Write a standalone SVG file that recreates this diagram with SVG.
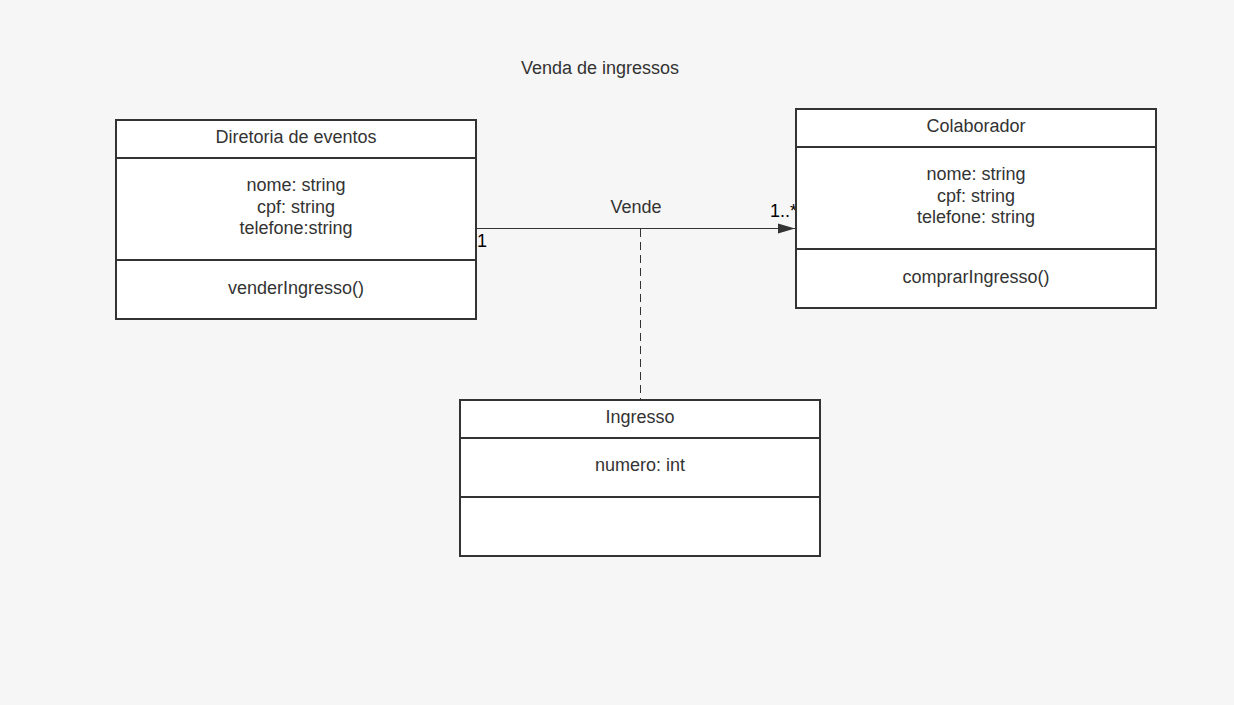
<svg xmlns="http://www.w3.org/2000/svg" width="1234" height="705" viewBox="0 0 1234 705">
<style>
.box{fill:#ffffff;stroke:#333333;stroke-width:2}
.div{stroke:#333333;stroke-width:2}
text{font-family:"Liberation Sans",Arial,sans-serif;font-size:18px;fill:#333333}
.c{text-anchor:middle}
.lbl{fill:#000000}
</style>
<defs>
<marker id="arr" markerWidth="18" markerHeight="12" refX="17" refY="6" orient="auto" markerUnits="userSpaceOnUse">
<path d="M0,1 L17,6 L0,11 Z" fill="#333333"/>
</marker>
</defs>
<rect width="1234" height="705" fill="#f6f6f6"/>
<text class="c" x="600" y="74">Venda de ingressos</text>
<g id="connectors">
<line x1="477" y1="228.5" x2="795" y2="228.5" stroke="#333333" stroke-width="1" marker-end="url(#arr)"/>
<line x1="640.5" y1="229" x2="640.5" y2="399" stroke="#333333" stroke-width="1" stroke-dasharray="8,5"/>
<text class="c" x="636" y="213">Vende</text>
<text class="lbl" x="477" y="247">1</text>
<text class="lbl" x="797" y="217" text-anchor="end">1..*</text>
</g>
<g id="diretoria">
<rect class="box" x="116" y="120" width="360" height="199"/>
<line class="div" x1="116" y1="158" x2="476" y2="158"/>
<line class="div" x1="116" y1="260" x2="476" y2="260"/>
<text class="c" x="296" y="143">Diretoria de eventos</text>
<text class="c" x="296" y="191">nome: string</text>
<text class="c" x="296" y="213">cpf: string</text>
<text class="c" x="296" y="234">telefone:string</text>
<text class="c" x="296" y="294">venderIngresso()</text>
</g>
<g id="colaborador">
<rect class="box" x="796" y="109" width="360" height="199"/>
<line class="div" x1="796" y1="147" x2="1156" y2="147"/>
<line class="div" x1="796" y1="249" x2="1156" y2="249"/>
<text class="c" x="976" y="132">Colaborador</text>
<text class="c" x="976" y="180">nome: string</text>
<text class="c" x="976" y="202">cpf: string</text>
<text class="c" x="976" y="223">telefone: string</text>
<text class="c" x="976" y="283">comprarIngresso()</text>
</g>
<g id="ingresso">
<rect class="box" x="460" y="400" width="360" height="156"/>
<line class="div" x1="460" y1="438" x2="820" y2="438"/>
<line class="div" x1="460" y1="497" x2="820" y2="497"/>
<text class="c" x="640" y="423">Ingresso</text>
<text class="c" x="640" y="471">numero: int</text>
</g>
</svg>
